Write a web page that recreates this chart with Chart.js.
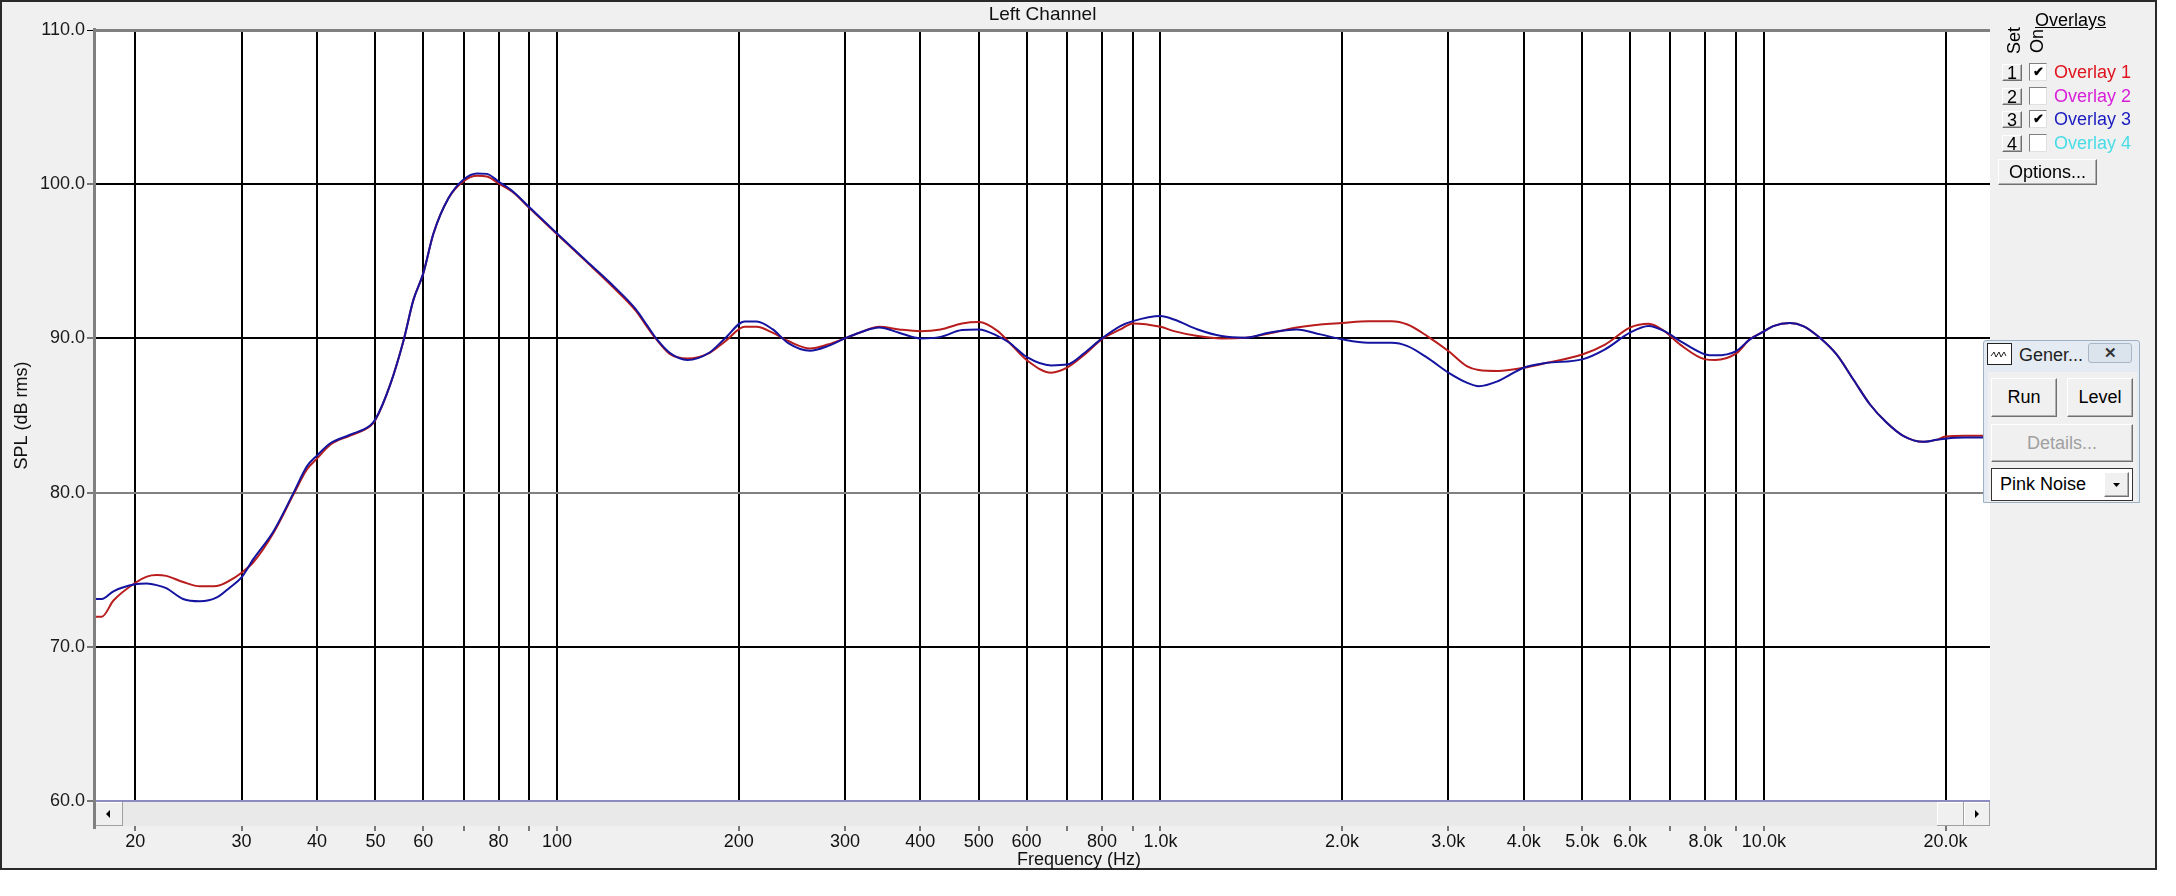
<!DOCTYPE html>
<html><head><meta charset="utf-8">
<script src="https://cdn.jsdelivr.net/npm/chart.js@4.4.0/dist/chart.umd.min.js"></script>
<style>
html,body{margin:0;padding:0;background:#fff;width:2176px;height:896px;overflow:hidden;font-family:"Liberation Sans",Arial,sans-serif;}
#frame{position:absolute;left:0;top:0;width:2153px;height:866px;background:#f0f0f0;border:2px solid #2a2a2a;z-index:0;}
#c{position:absolute;left:0;top:0;z-index:1;}
.ui{position:absolute;z-index:3;font-size:18px;line-height:20px;color:#000;white-space:nowrap;box-sizing:border-box;}
.btn{background:#f0f0f0;border:1px solid;border-color:#fff #707070 #707070 #fff;box-shadow:inset -1px -1px #b0b0b0;text-align:center;}
.num{width:20px;height:17px;line-height:16px;font-size:18px;left:2002px;}
.chk{width:18px;height:18px;left:2029px;background:#fff;border:1px solid;border-color:#808080 #e0e0e0 #e0e0e0 #808080;font-size:13px;line-height:16px;text-align:center;font-weight:bold;}
.lbl{left:2054px;}
.vt{writing-mode:vertical-rl;transform:rotate(180deg);line-height:16px;}
#gen{left:1983px;top:340px;width:157px;height:163px;background:#e4ebf2;border:1px solid #9fb0c2;border-radius:3px 3px 0 0;}
</style></head>
<body>
<div id="frame"></div>
<canvas id="c" width="2176" height="896"></canvas>

<div class="ui" style="left:2035px;top:10px;text-decoration:underline;">Overlays</div>
<div class="ui vt" style="left:2006px;top:27px;">Set</div>
<div class="ui vt" style="left:2029px;top:29px;">On</div>

<div class="ui btn num" style="top:64px;">1</div>
<div class="ui chk" style="top:63px;">✔</div>
<div class="ui lbl" style="top:62px;color:#e0141e;">Overlay 1</div>
<div class="ui btn num" style="top:88px;">2</div>
<div class="ui chk" style="top:87px;"></div>
<div class="ui lbl" style="top:86px;color:#d820d8;">Overlay 2</div>
<div class="ui btn num" style="top:111px;">3</div>
<div class="ui chk" style="top:110px;">✔</div>
<div class="ui lbl" style="top:109px;color:#1c1cc0;">Overlay 3</div>
<div class="ui btn num" style="top:135px;">4</div>
<div class="ui chk" style="top:134px;"></div>
<div class="ui lbl" style="top:133px;color:#48dce6;">Overlay 4</div>
<div class="ui btn" style="left:1998px;top:159px;width:99px;height:26px;line-height:24px;">Options...</div>

<div class="ui" id="gen"></div>
<div class="ui" style="left:1987px;top:343px;width:25px;height:22px;background:#fff;border:1px solid #222;">
  <svg width="23" height="20" style="position:absolute;left:0;top:0"><polyline points="3,12 6,8 8,13 11,8 13,13 16,8 18,12" fill="none" stroke="#222" stroke-width="1"/></svg>
</div>
<div class="ui" style="left:2019px;top:345px;color:#222;">Gener...</div>
<div class="ui" style="left:2088px;top:343px;width:44px;height:20px;background:#dbe3ec;border:1px solid #a8b6c6;border-radius:3px;text-align:center;line-height:18px;font-size:15px;color:#333;font-weight:bold;">✕</div>
<div class="ui" style="left:1988px;top:372px;width:149px;height:130px;background:#f0f0f0;"></div>
<div class="ui btn" style="left:1991px;top:378px;width:66px;height:39px;line-height:37px;">Run</div>
<div class="ui btn" style="left:2067px;top:378px;width:66px;height:39px;line-height:37px;">Level</div>
<div class="ui btn" style="left:1991px;top:424px;width:142px;height:38px;line-height:36px;color:#a0a0a0;">Details...</div>
<div class="ui" style="left:1991px;top:468px;width:142px;height:33px;background:#fff;border:1px solid #333;line-height:31px;padding-left:8px;">Pink Noise</div>
<div class="ui btn" style="left:2104px;top:472px;width:25px;height:25px;">
  <svg width="23" height="23" style="position:absolute;left:0;top:0"><polygon points="8,10 15,10 11.5,14" fill="#000"/></svg>
</div>

<script>
// ---- data ----
const freqHz = [17.15, 17.6, 18.4, 20, 20.9, 21.7, 22.5, 24, 25.6, 27.3, 28.7, 30, 31.4, 33.9, 36.6, 38.5, 40, 42.1, 45.4, 49, 50, 52.9, 55.7, 57.8, 60, 62.4, 66.1, 70, 73.7, 76.5, 80, 84.7, 90, 100, 112, 124, 135, 141, 146, 153.7, 164.5, 178.7, 189.8, 204.7, 214.2, 227.5, 241.6, 262.6, 281, 300, 317, 342, 368.7, 400, 432, 469, 500, 537.6, 562, 600, 659, 700, 749, 800, 858, 900, 1000, 1053, 1153, 1263, 1382, 1513, 1682, 1841, 2000, 2207, 2416, 2567, 2767, 3000, 3218, 3367, 3631, 4000, 4351, 5000, 5455, 6000, 6442, 6842, 7267, 8000, 8300, 9000, 9480, 10000, 10363, 11043, 11620, 12381, 13197, 14060, 14983, 15970, 17017, 18365, 19321, 20000, 21500, 23700];

const overlay1 = [71.95, 71.95, 73.0, 74.15, 74.55, 74.65, 74.6, 74.2, 73.92, 73.95, 74.3, 74.8, 75.5, 77.4, 79.9, 81.5, 82.2, 83.1, 83.7, 84.3, 84.7, 87.0, 89.9, 92.5, 94.2, 96.8, 99.1, 100.2, 100.55, 100.5, 100.05, 99.45, 98.45, 96.75, 94.95, 93.3, 91.8, 90.75, 89.95, 89.0, 88.7, 89.05, 89.8, 90.75, 90.75, 90.37, 89.83, 89.35, 89.6, 90.0, 90.37, 90.75, 90.58, 90.47, 90.58, 90.97, 91.06, 90.47, 89.72, 88.6, 87.78, 88.1, 88.96, 89.95, 90.58, 90.97, 90.75, 90.47, 90.15, 90.0, 90.04, 90.32, 90.7, 90.9, 91.0, 91.12, 91.12, 90.9, 90.15, 89.18, 88.2, 87.95, 87.89, 88.1, 88.4, 88.96, 89.6, 90.7, 90.95, 90.47, 89.6, 88.64, 88.6, 89.03, 89.94, 90.45, 90.8, 91.0, 90.8, 90.04, 88.96, 87.35, 85.73, 84.54, 83.68, 83.29, 83.42, 83.64, 83.68, 83.68];

const overlay3 = [73.1, 73.1, 73.6, 74.05, 74.1, 74.0, 73.8, 73.1, 72.95, 73.2, 73.85, 74.5, 75.7, 77.5, 80.0, 81.7, 82.4, 83.2, 83.75, 84.35, 84.75, 87.0, 89.9, 92.5, 94.2, 96.8, 99.1, 100.3, 100.7, 100.67, 100.17, 99.5, 98.5, 96.8, 95.0, 93.4, 91.9, 90.85, 90.0, 89.07, 88.6, 89.07, 90.0, 91.1, 91.1, 90.6, 89.7, 89.2, 89.5, 90.0, 90.37, 90.7, 90.37, 90.0, 90.1, 90.54, 90.58, 90.15, 89.72, 88.8, 88.25, 88.3, 89.07, 90.0, 90.8, 91.12, 91.45, 91.23, 90.58, 90.15, 90.04, 90.37, 90.58, 90.26, 89.94, 89.72, 89.72, 89.5, 88.75, 87.78, 87.13, 86.9, 87.24, 88.1, 88.4, 88.64, 89.29, 90.37, 90.8, 90.47, 89.83, 88.96, 88.9, 89.18, 89.94, 90.45, 90.8, 91.0, 90.8, 90.04, 88.96, 87.35, 85.73, 84.54, 83.68, 83.29, 83.42, 83.5, 83.57, 83.57];

const xTickValues = [20, 30, 40, 50, 60, 70, 80, 90, 100, 200, 300, 400, 500, 600, 700, 800, 900, 1000, 2000, 3000, 4000, 5000, 6000, 7000, 8000, 9000, 10000, 20000];
const xTickLabels = ['20', '30', '40', '50', '60', '', '80', '', '100', '200', '300', '400', '500', '600', '', '800', '', '1.0k', '2.0k', '3.0k', '4.0k', '5.0k', '6.0k', '', '8.0k', '', '10.0k', '20.0k'];
const yTickValues = [60, 70, 80, 90, 100, 110];
const yTickLabels = ['60.0', '70.0', '80.0', '90.0', '100.0', '110.0'];

const FONT = '"Liberation Sans", Arial, sans-serif';

function btn3d(ctx, x, y, w, h) {
  ctx.fillStyle = '#f0f0f0'; ctx.fillRect(x, y, w, h);
  ctx.fillStyle = '#ffffff'; ctx.fillRect(x, y, w, 1); ctx.fillRect(x, y, 1, h);
  ctx.fillStyle = '#a0a0a0'; ctx.fillRect(x, y + h - 1, w, 1); ctx.fillRect(x + w - 1, y, 1, h);
}

const chromePlugin = {
  id: 'chrome',
  beforeDraw(chart) {
    const {ctx, chartArea: a} = chart;
    ctx.save();
    ctx.fillStyle = '#ffffff';
    ctx.fillRect(a.left, a.top, a.right - a.left, a.bottom - a.top);
    ctx.restore();
  },
  afterDraw(chart) {
    const {ctx, chartArea: a} = chart;
    ctx.save();
    const sy = a.bottom + 1, sh = 24;
    ctx.fillStyle = '#e9e9e9';
    ctx.fillRect(a.left, sy, a.right - a.left, sh);
    btn3d(ctx, a.left, sy, 28, sh);
    btn3d(ctx, a.right - 53, sy, 27, sh);
    btn3d(ctx, a.right - 26, sy, 26, sh);
    ctx.fillStyle = '#000';
    ctx.beginPath(); ctx.moveTo(a.left + 11, sy + 12); ctx.lineTo(a.left + 15, sy + 8); ctx.lineTo(a.left + 15, sy + 16); ctx.closePath(); ctx.fill();
    ctx.beginPath(); ctx.moveTo(a.right - 11, sy + 12); ctx.lineTo(a.right - 15, sy + 8); ctx.lineTo(a.right - 15, sy + 16); ctx.closePath(); ctx.fill();
    ctx.fillStyle = '#808080';
    ctx.fillRect(a.left - 2, a.top - 2, 3, sy + sh + 3 - (a.top - 2));
    ctx.fillStyle = '#111';
    ctx.textAlign = 'center'; ctx.textBaseline = 'middle';
    ctx.font = '19px ' + FONT;
    ctx.fillText('Left Channel', (a.left + a.right) / 2, 15);
    ctx.font = '18px ' + FONT;
    ctx.fillText('Frequency (Hz)', 1079, 860);
    ctx.restore();
  }
};

const toPts = (ys) => freqHz.map((f, i) => ({x: f, y: ys[i]}));

new Chart(document.getElementById('c'), {
  type: 'line',
  data: {
    datasets: [
      {label: 'Overlay 3', data: toPts(overlay3), borderColor: '#1414a0', borderWidth: 2, pointRadius: 0, cubicInterpolationMode: 'monotone', order: 0},
      {label: 'Overlay 1', data: toPts(overlay1), borderColor: '#b81c1c', borderWidth: 2, pointRadius: 0, cubicInterpolationMode: 'monotone', order: 1}
    ]
  },
  options: {
    responsive: false,
    devicePixelRatio: 1,
    animation: false,
    layout: {padding: {left: 0, top: 30, right: 186, bottom: 0}},
    plugins: {legend: {display: false}, tooltip: {enabled: false}, title: {display: false}},
    scales: {
      x: {
        type: 'logarithmic', min: 17.15, max: 23700,
        afterBuildTicks: (s) => { s.ticks = xTickValues.map(v => ({value: v})); },
        afterFit: (s) => { s.height = 95; },
        ticks: {
          autoSkip: false, maxRotation: 0, minRotation: 0, padding: 0,
          color: '#111', font: {size: 18, family: FONT},
          callback: (v, i) => xTickLabels[i]
        },
        grid: {color: '#000', lineWidth: 2, tickLength: 30, tickWidth: 1, tickColor: '#000'},
        border: {display: false}
      },
      y: {
        type: 'linear', min: 60, max: 110,
        afterBuildTicks: (s) => { s.ticks = yTickValues.map(v => ({value: v})); },
        afterFit: (s) => { s.width = 95; },
        ticks: {
          padding: 2, color: '#1a1a1a', font: {size: 18, family: FONT},
          callback: (v, i) => yTickLabels[i]
        },
        grid: {
          color: (c) => c.tick.value === 110 ? '#808080' : c.tick.value === 80 ? '#808080' : c.tick.value === 60 ? '#8c8cc0' : '#000',
          lineWidth: (c) => c.tick.value === 110 ? 3 : 2,
          tickLength: 8, tickWidth: 1, tickColor: '#000'
        },
        border: {display: false},
        title: {display: true, text: 'SPL (dB rms)', color: '#111', font: {size: 18, family: FONT}, padding: {top: 11, bottom: 0}}
      }
    }
  },
  plugins: [chromePlugin]
});
</script>
</body></html>
